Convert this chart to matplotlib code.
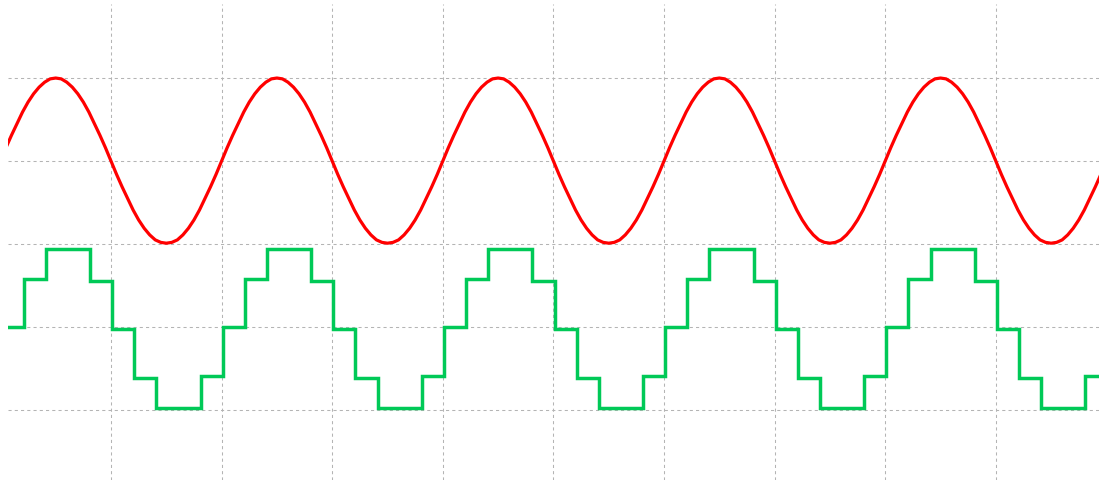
import numpy as np
import matplotlib
matplotlib.use("Agg")
import matplotlib.pyplot as plt

# Time base in divisions; reference sine sampled every 0.05 div
sine_t = np.round(np.arange(0, 10.001, 0.05), 2)
sine_v = [
    2.00, 2.16, 2.31, 2.45, 2.59, 2.71, 2.81, 2.89, 2.95, 2.99,
    3.00, 2.99, 2.95, 2.89, 2.81, 2.71, 2.59, 2.45, 2.31, 2.16,
    2.00, 1.84, 1.69, 1.55, 1.41, 1.29, 1.19, 1.11, 1.05, 1.02,
    1.01, 1.02, 1.05, 1.11, 1.19, 1.29, 1.41, 1.55, 1.69, 1.84,
    2.00, 2.16, 2.31, 2.45, 2.59, 2.71, 2.81, 2.89, 2.95, 2.99,
    3.00, 2.99, 2.95, 2.89, 2.81, 2.71, 2.59, 2.45, 2.31, 2.16,
    2.00, 1.84, 1.69, 1.55, 1.41, 1.29, 1.19, 1.11, 1.05, 1.02,
    1.01, 1.02, 1.05, 1.11, 1.19, 1.29, 1.41, 1.55, 1.69, 1.84,
    2.00, 2.16, 2.31, 2.45, 2.59, 2.71, 2.81, 2.89, 2.95, 2.99,
    3.00, 2.99, 2.95, 2.89, 2.81, 2.71, 2.59, 2.45, 2.31, 2.16,
    2.00, 1.84, 1.69, 1.55, 1.41, 1.29, 1.19, 1.11, 1.05, 1.02,
    1.01, 1.02, 1.05, 1.11, 1.19, 1.29, 1.41, 1.55, 1.69, 1.84,
    2.00, 2.16, 2.31, 2.45, 2.59, 2.71, 2.81, 2.89, 2.95, 2.99,
    3.00, 2.99, 2.95, 2.89, 2.81, 2.71, 2.59, 2.45, 2.31, 2.16,
    2.00, 1.84, 1.69, 1.55, 1.41, 1.29, 1.19, 1.11, 1.05, 1.02,
    1.01, 1.02, 1.05, 1.11, 1.19, 1.29, 1.41, 1.55, 1.69, 1.84,
    2.00, 2.16, 2.31, 2.45, 2.59, 2.71, 2.81, 2.89, 2.95, 2.99,
    3.00, 2.99, 2.95, 2.89, 2.81, 2.71, 2.59, 2.45, 2.31, 2.16,
    2.00, 1.84, 1.69, 1.55, 1.41, 1.29, 1.19, 1.11, 1.05, 1.02,
    1.01, 1.02, 1.05, 1.11, 1.19, 1.29, 1.41, 1.55, 1.69, 1.84,
    2.00,
]

# Quantised output: one held level per 0.2 div sample
step_t = np.round(np.arange(0.01, 10.02, 0.2), 2)
step_v = [
    0.00, 0.58, 0.94, 0.94, 0.56, -0.02, -0.61, -0.97, -0.97, -0.59,
    0.00, 0.58, 0.94, 0.94, 0.56, -0.02, -0.61, -0.97, -0.97, -0.59,
    0.00, 0.58, 0.94, 0.94, 0.56, -0.02, -0.61, -0.97, -0.97, -0.59,
    0.00, 0.58, 0.94, 0.94, 0.56, -0.02, -0.61, -0.97, -0.97, -0.59,
    0.00, 0.58, 0.94, 0.94, 0.56, -0.02, -0.61, -0.97, -0.97, -0.59,
    0.00,
]

grid_x = [1, 2, 3, 4, 5, 6, 7, 8, 9]
grid_y = [-1, 0, 1, 2, 3]

W, H = 1099, 481
fig = plt.figure(figsize=(W / 100, H / 100), dpi=100)
ax = fig.add_axes([8 / W, 0, 1 - 8 / W, (H - 5) / H])

for gx in grid_x:
    ax.axvline(gx, color="#b4b4b4", lw=0.75, ls=(0, (3, 3)), zorder=1)
for gy in grid_y:
    ax.axhline(gy, color="#b4b4b4", lw=0.75, ls=(0, (3, 3)), zorder=1)

ax.plot(sine_t, sine_v, color="#ff0000", lw=2.3, solid_joinstyle="round", zorder=3)
ax.plot(step_t, step_v, color="#00c957", lw=2.5, drawstyle="steps-post",
        solid_joinstyle="miter", zorder=3)

ax.set_xlim(0.0687, 9.933)
ax.set_ylim(-1.843, 3.892)
ax.set_xticks([])
ax.set_yticks([])
for s in ax.spines.values():
    s.set_visible(False)

fig.savefig("out.png", dpi=100, facecolor="white")
